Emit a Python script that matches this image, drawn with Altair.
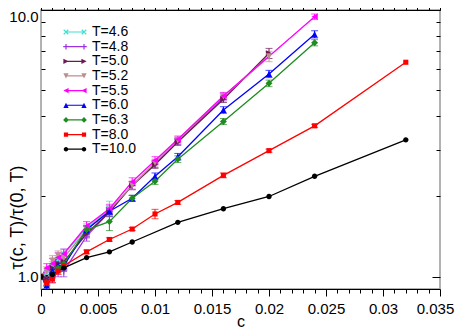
import math
import altair as alt
import pandas as pd

LABELS = ["T=4.6", "T=4.8", "T=5.0", "T=5.2", "T=5.5", "T=6.0", "T=6.3", "T=8.0", "T=10.0"]
COLORS = ["#40e0d0", "#9932e0", "#6e1a52", "#bc8f8f", "#ff00ff", "#0000ff", "#1e8c1e", "#ff0000", "#000000"]
MARKERS = ["x", "plus", "tri-right", "tri-down", "tri-left", "tri-up", "diamond", "square", "circle"]

C_46 = [0, 0.0005, 0.001, 0.0015, 0.002, 0.004, 0.006]
V_46 = [1.0, 1.03, 1.10, 1.16, 1.22, 1.52, 1.80]
E_46 = [0, 0.03, 0.04, 0.04, 0.05, 0.06, 0.12]

C_48 = [0, 0.0005, 0.001, 0.0015, 0.002, 0.004, 0.006, 0.008, 0.010, 0.012, 0.016]
V_48 = [1.0, 0.97, 1.00, 1.05, 1.05, 1.42, 1.75, 2.20, 2.65, 3.22, 4.70]
E_48 = [0, 0.04, 0.05, 0.05, 0.05, 0.06, 0.07, 0.08, 0.08, 0.09, 0.14]

C_50 = [0, 0.0005, 0.001, 0.0015, 0.002, 0.004, 0.006, 0.008, 0.010, 0.012, 0.016, 0.020]
V_50 = [1.0, 0.98, 1.08, 1.12, 1.14, 1.45, 1.75, 2.20, 2.63, 3.20, 4.63, 6.88]
E_50 = [0, 0.03, 0.04, 0.04, 0.05, 0.05, 0.06, 0.07, 0.08, 0.09, 0.13, 0.30]

C_52 = [0, 0.0005, 0.001, 0.0015, 0.002, 0.004, 0.006, 0.008, 0.010, 0.012, 0.016, 0.020]
V_52 = [1.0, 1.05, 1.15, 1.20, 1.18, 1.50, 1.78, 2.20, 2.68, 3.25, 4.75, 6.70]
E_52 = [0, 0.04, 0.05, 0.05, 0.05, 0.06, 0.07, 0.08, 0.08, 0.09, 0.13, 0.30]

C_55 = [0, 0.0005, 0.001, 0.0015, 0.002, 0.004, 0.006, 0.008, 0.010, 0.012, 0.016, 0.024]
V_55 = [1.0, 1.08, 1.12, 1.18, 1.22, 1.55, 1.80, 2.27, 2.73, 3.28, 4.76, 9.44]
E_55 = [0, 0.04, 0.05, 0.05, 0.05, 0.06, 0.07, 0.08, 0.09, 0.09, 0.15, 0.22]

C_60 = [0, 0.0005, 0.001, 0.0015, 0.002, 0.004, 0.006, 0.008, 0.010, 0.012, 0.016, 0.020, 0.024]
V_60 = [1.0, 0.93, 1.05, 1.10, 1.10, 1.50, 1.76, 1.97, 2.38, 2.82, 4.22, 5.76, 8.11]
E_60 = [0, 0.03, 0.04, 0.04, 0.04, 0.05, 0.05, 0.05, 0.07, 0.08, 0.12, 0.18, 0.25]

C_63 = [0, 0.0005, 0.001, 0.0015, 0.002, 0.004, 0.006, 0.008, 0.010, 0.012, 0.016, 0.020, 0.024]
V_63 = [1.0, 0.95, 1.02, 1.08, 1.12, 1.50, 1.61, 1.97, 2.28, 2.76, 3.82, 5.31, 7.54]
E_63 = [0, 0.03, 0.03, 0.04, 0.04, 0.05, 0.12, 0.05, 0.06, 0.08, 0.10, 0.15, 0.20]

C_80 = [0, 0.0005, 0.001, 0.0015, 0.002, 0.004, 0.006, 0.008, 0.010, 0.012, 0.016, 0.020, 0.024, 0.032]
V_80 = [1.0, 0.95, 0.98, 1.05, 1.10, 1.24, 1.38, 1.51, 1.72, 1.90, 2.40, 2.97, 3.68, 6.37]
E_80 = [0, 0.02, 0.03, 0.03, 0.03, 0.02, 0.02, 0.02, 0.07, 0.03, 0.05, 0.04, 0.05, 0]

C_100 = [0, 0.001, 0.002, 0.004, 0.006, 0.008, 0.012, 0.016, 0.020, 0.024, 0.032]
V_100 = [1.0, 1.02, 1.08, 1.18, 1.24, 1.35, 1.60, 1.80, 2.00, 2.38, 3.26]
E_100 = [0, 0, 0, 0, 0, 0, 0, 0, 0, 0, 0]

X_MAJOR = [0, 0.005, 0.01, 0.015, 0.02, 0.025, 0.03, 0.035]
X_MINOR = [round(i * 0.001, 3) for i in range(36) if i % 5]
Y_MAJOR = [1, 10]
Y_MINOR = [2, 3, 4, 5, 6, 7, 8, 9]

SERIES = [
    (LABELS[0], C_46, V_46, E_46), (LABELS[1], C_48, V_48, E_48),
    (LABELS[2], C_50, V_50, E_50), (LABELS[3], C_52, V_52, E_52),
    (LABELS[4], C_55, V_55, E_55), (LABELS[5], C_60, V_60, E_60),
    (LABELS[6], C_63, V_63, E_63), (LABELS[7], C_80, V_80, E_80),
    (LABELS[8], C_100, V_100, E_100),
]
rows = []
for lab, cs, vs, es in SERIES:
    for c, v, e in zip(cs, vs, es):
        rows.append({"T": lab, "c": c, "v": v, "lo": v - e, "hi": v + e, "err": e})
df = pd.DataFrame(rows)


# ---- marker path helpers (style only) ----
def _orient(pts):
    n = len(pts)
    s = sum(pts[i][0] * pts[(i + 1) % n][1] - pts[(i + 1) % n][0] * pts[i][1] for i in range(n))
    return pts if s > 0 else pts[::-1]


def _poly(pts):
    pts = _orient(pts)
    return "M" + "L".join(f"{x:.3f},{y:.3f}" for x, y in pts) + "Z"


def _rect(x0, y0, x1, y1):
    return _poly([(x0, y0), (x1, y0), (x1, y1), (x0, y1)])


def _bar(x0, y0, x1, y1, t):
    dx, dy = x1 - x0, y1 - y0
    L = math.hypot(dx, dy)
    nx, ny = -dy / L * t, dx / L * t
    return _poly([(x0 + nx, y0 + ny), (x1 + nx, y1 + ny), (x1 - nx, y1 - ny), (x0 - nx, y0 - ny)])


def marker(kind, cx=0.0, h=1.0, t=0.2):
    if kind == "x":
        g = h * 0.9
        return _bar(cx - g, -g, cx + g, g, t) + _bar(cx - g, g, cx + g, -g, t)
    if kind == "plus":
        g = h * 1.1
        return _rect(cx - g, -t, cx + g, t) + _rect(cx - t, -g, cx + t, g)
    if kind == "square":
        g = h * 0.85
        return _rect(cx - g, -g, cx + g, g)
    if kind == "diamond":
        g = h * 1.15
        return _poly([(cx, -g), (cx + g, 0), (cx, g), (cx - g, 0)])
    if kind == "circle":
        g = h * 0.9
        return (f"M{cx - g:.3f},0A{g:.3f},{g:.3f} 0 1,1 {cx + g:.3f},0"
                f"A{g:.3f},{g:.3f} 0 1,1 {cx - g:.3f},0Z")
    g = h * 1.05
    if kind == "tri-up":
        return _poly([(cx, -g), (cx + g, g), (cx - g, g)])
    if kind == "tri-down":
        return _poly([(cx - g, -g), (cx + g, -g), (cx, g)])
    if kind == "tri-right":
        return _poly([(cx - g, -g), (cx + g, 0), (cx - g, g)])
    if kind == "tri-left":
        return _poly([(cx + g, -g), (cx + g, g), (cx - g, 0)])
    return ""


PLOT_PATHS = [marker(k, 0.0, 1.0, 0.2) for k in MARKERS]
LEGEND_PATHS = [_rect(-1.8, -0.12, 1.8, 0.12) + marker(k, -1.8, 0.5, 0.12) + marker(k, 1.8, 0.5, 0.12)
                for k in MARKERS]

xs = alt.Scale(domain=[0, 0.035], nice=False, zero=False)
ys = alt.Scale(type="log", domain=[0.9, 10], nice=False)
color_nl = alt.Color("T:N", scale=alt.Scale(domain=LABELS, range=COLORS), legend=None)

ax_bottom = alt.Axis(orient="bottom", values=X_MAJOR, format="~g", tickSize=7, labelFontSize=15,
                     labelPadding=5, labelFlush=False, labelOverlap=False, domain=True,
                     labelOffset={"condition": {"test": "datum.value >= 0.0349", "value": -5}, "value": 0},
                     title="c", titleFontSize=16, titleFontWeight="normal",
                     titleBaseline="alphabetic", titleY=37.5)
ax_top = alt.Axis(orient="top", values=X_MAJOR, tickSize=7, labels=False, domain=True, title=None)
ax_bottom_minor = alt.Axis(orient="bottom", values=X_MINOR, tickSize=4, labels=False, domain=False, title=None)
ax_top_minor = alt.Axis(orient="top", values=X_MINOR, tickSize=4, labels=False, domain=False, title=None)

ay_left = alt.Axis(orient="left", values=Y_MAJOR, format=".1f", tickSize=8, offset=-8, domain=False,
                   labelFontSize=15, labelPadding=3, labelFlush=False, labelOverlap=False,
                   labelOffset={"condition": {"test": "datum.value == 10", "value": 6.5}, "value": 0},
                   title="τ(c, T)/τ(0, T)", titleFontSize=18, titleFontWeight="normal",
                   titleAngle=270, titleAlign="center", titleBaseline="middle",
                   titleX=-31.5, titleY=207)
ay_right = alt.Axis(orient="right", values=Y_MAJOR, tickSize=8, offset=-8, domain=False, labels=False, title=None)
ay_left_minor = alt.Axis(orient="left", values=Y_MINOR, tickSize=4, offset=-4, domain=False, labels=False, title=None)
ay_right_minor = alt.Axis(orient="right", values=Y_MINOR, tickSize=4, offset=-4, domain=False, labels=False, title=None)

base = alt.Chart(df)

err = base.transform_filter("datum.err > 0").mark_errorbar(
    ticks={"size": 7}, thickness=1, clip=True
).encode(
    x=alt.X("c:Q", scale=xs, axis=ax_bottom),
    y=alt.Y("lo:Q", scale=ys, axis=ay_left),
    y2="hi:Q",
    color=color_nl,
)

lines = base.mark_line(strokeWidth=1.3, clip=True).encode(
    x=alt.X("c:Q", scale=xs, axis=ax_top),
    y=alt.Y("v:Q", scale=ys, axis=ay_right),
    color=color_nl,
)

points = base.mark_point(filled=True, size=36, opacity=1, clip=True).encode(
    x=alt.X("c:Q", scale=xs, axis=ax_bottom_minor),
    y=alt.Y("v:Q", scale=ys, axis=ay_left_minor),
    color=color_nl,
    shape=alt.Shape("T:N", scale=alt.Scale(domain=LABELS, range=PLOT_PATHS), legend=None),
)

leg_def = alt.Legend(orient="none", legendX=27, legendY=15, title=None, labelFontSize=14,
                     labelColor="black", symbolSize=100, labelOffset=10, rowPadding=0.65,
                     padding=0, symbolStrokeWidth=0, symbolOpacity=1, labelLimit=200)
legend_layer = base.transform_filter("false").mark_point(filled=True, opacity=1).encode(
    x=alt.X("c:Q", scale=xs, axis=ax_top_minor),
    y=alt.Y("v:Q", scale=ys, axis=ay_right_minor),
    color=alt.Color("T:N", scale=alt.Scale(domain=LABELS, range=COLORS), legend=leg_def),
    shape=alt.Shape("T:N", scale=alt.Scale(domain=LABELS, range=LEGEND_PATHS), legend=leg_def),
)

chart = alt.layer(err, lines, points, legend_layer).resolve_scale(
    shape="independent"
).resolve_axis(
    x="independent", y="independent"
).resolve_legend(
    color="independent", shape="independent"
).properties(
    width=399, height=279,
    padding={"left": 33, "top": 2, "right": 15, "bottom": 40},
    autosize=alt.AutoSizeParams(type="none"),
).configure(
    font="Liberation Sans"
).configure_view(
    stroke="#999999", strokeWidth=1.5
).configure_axis(
    grid=False, tickColor="black", tickWidth=1, domainColor="black", domainWidth=1,
    labelColor="black", titleColor="black"
)

chart.save("out.html", embed_options={"renderer": "svg", "actions": False})
